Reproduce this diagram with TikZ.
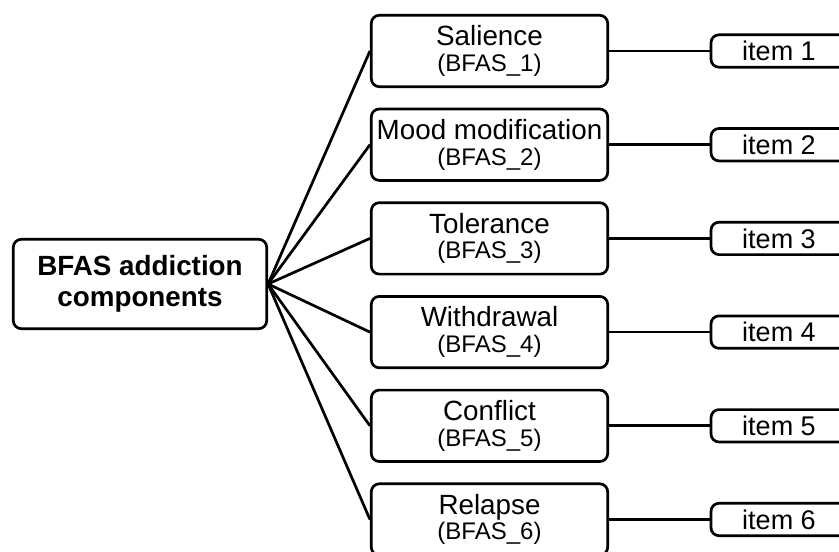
\documentclass[tikz,border=0pt]{standalone}
\usepackage{fontspec}
\setmainfont{Liberation Sans}
\begin{document}
\begin{tikzpicture}[x=1pt,y=-1pt,
  box/.style={draw, line width=2.7pt, rounded corners=8pt, inner sep=0pt, align=center},
  hub/.style={box, minimum width=253.4pt, minimum height=89.4pt,
    font=\bfseries\fontsize{27.8}{31}\selectfont},
  comp/.style={box, minimum width=236.4pt, minimum height=71.4pt,
    font=\fontsize{27.8}{25.5}\selectfont},
  itembox/.style={box, minimum width=136pt, minimum height=32.4pt,
    font=\fontsize{27}{27}\selectfont},
  link/.style={line width=2.7pt}]
\useasboundingbox (0,0) rectangle (839,552);
\clip (0,0) rectangle (839,552);
% central hub
\node[hub] (hub) at (140,284) {BFAS addiction\\components};
% components, each with its single item
\foreach \n/\t in {1/Salience, 2/Mood modification, 3/Tolerance,
                   4/Withdrawal, 5/Conflict, 6/Relapse} {
  \node[comp] (c\n) at (489.5,{51+93.7*(\n-1)})
    {\t\\{\fontsize{24}{25.5}\selectfont(BFAS\_\n)}};
  \node[itembox] (i\n) at (779,{51+93.7*(\n-1)}) {item \n};
  \draw[link] (hub.east) -- (c\n.west);
  \draw[link] (c\n.east) -- (i\n.west);
}
\end{tikzpicture}
\end{document}
